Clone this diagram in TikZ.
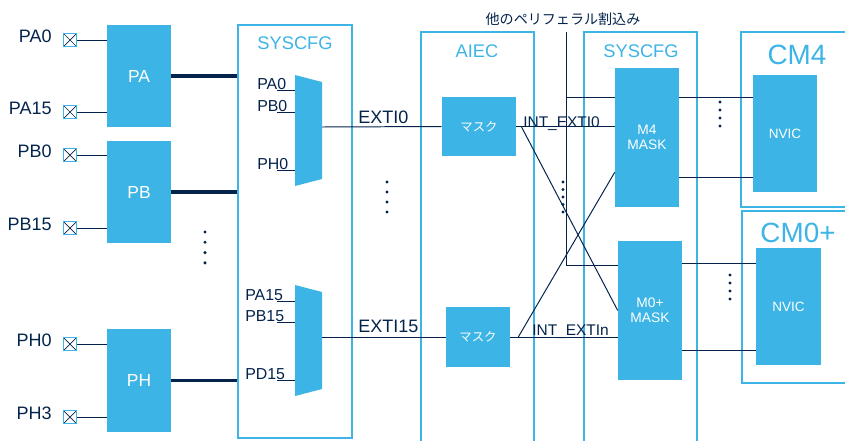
\documentclass[tikz,border=0pt]{standalone}
\usepackage{fontspec}
\setmainfont{Liberation Sans}
\newfontfamily\jpfont{Noto Sans CJK JP}
\usetikzlibrary{calc}
\definecolor{stblue}{HTML}{3CB4E6}
\definecolor{stnavy}{HTML}{03234B}

\begin{document}
\begin{tikzpicture}[x=0.025cm,y=-0.025cm,
  sz/.style 2 args={minimum width=#1*0.025cm,minimum height=#2*0.025cm},
  blk/.style={fill=stblue,text=white,inner sep=0pt},
  frm/.style={draw=stblue,line width=1.3pt},
  ttl/.style={text=stblue,inner sep=0pt,font=\fontsize{13}{15}\selectfont},
  lbl/.style={text=stnavy,inner sep=0pt,font=\fontsize{12.8}{15}\selectfont},
  wire/.style={draw=stnavy,line width=0.7pt},
  bus/.style={draw=stnavy,line width=2.8pt},
  pad/.style={draw=stblue,line width=0.9pt,minimum size=0.32cm,inner sep=0pt,
    path picture={\draw[stnavy,line width=0.5pt]
      (path picture bounding box.north west) -- (path picture bounding box.south east)
      (path picture bounding box.south west) -- (path picture bounding box.north east);}}]
\useasboundingbox (0,0) rectangle (845,441);

% GPIO ports
\node[blk,sz={64}{102},font=\fontsize{12.4}{14}\selectfont] (pa) at (139,76) {PA};
\node[blk,sz={64}{102},font=\fontsize{12.4}{14}\selectfont] (pb) at (139,192) {PB};
\node[blk,sz={64}{103},font=\fontsize{12.4}{14}\selectfont] (ph) at (139,380.5) {PH};
\foreach \nm/\y/\t/\bx in {pa0/40/PA0/pa, pa15/112/PA15/pa, pb0/155/PB0/pb,
                          pb15/228/PB15/pb, ph0/344/PH0/ph, ph3/417/PH3/ph}{
  \node[pad] (\nm) at (70,\y) {};
  \node[lbl,anchor=east] (\nm l) at ($(\nm.west)+(-11,-4)$) {\t}; %label
  \draw[wire] (\nm.east) -- (\nm.east -| \bx.west);
}

% SYSCFG (EXTI mux)
\node[frm,sz={114}{413}] (sysa) at (295,231.5) {};
\node[ttl] (sysat) at (295,43) {SYSCFG}; %label
\foreach \bx in {pa,pb,ph}
  \draw[bus] (\bx.east) -- (\bx.east -| sysa.west);

\fill[stblue] (295,75) -- (322,82) -- (322,179) -- (295,186) -- cycle;
\fill[stblue] (295,285) -- (322,292) -- (322,389) -- (295,396) -- cycle;
\coordinate (mxa) at (322,127);
\coordinate (mxb) at (322,337);
\foreach \y/\t/\lx in {90/PA0/257,112/PB0/257,170/PH0/257,301/PA15/245,322/PB15/245,380/PD15/245}{
  \draw[wire] (277,\y) -- (295,\y);
  \node[lbl,anchor=base west,font=\fontsize{11.3}{13}\selectfont] (in\t) at (\lx,\y-1) {\t}; %label
}

% AIEC
\draw[frm] (421,441) |- (534,32) -- (534,441);
\node[ttl] (aiect) at (477,51) {AIEC}; %label
\node[blk,sz={74}{59},font=\jpfont\fontsize{8.8}{10}\selectfont] (mka) at (479,126.5) {マスク};
\node[blk,sz={64}{60},font=\jpfont\fontsize{8.8}{10}\selectfont] (mkb) at (478,337) {マスク};
\draw[wire] (mxa) -- (mka.west);
\draw[wire] (mxb) -- (mkb.west);
\node[lbl,anchor=base west] (exa) at (358,123) {EXTI0}; %label
\node[lbl,anchor=base west] (exb) at (358,332) {EXTI15}; %label

% SYSCFG (core masks)
\draw[frm] (584,441) |- (697,32) -- (697,441);
\node[ttl] (sysbt) at (641,51) {SYSCFG}; %label
\node[blk,sz={64}{139},align=center,font=\fontsize{9.8}{10.6}\selectfont] (m4) at (647,137.5) {M4\\MASK};
\node[blk,sz={64}{139},align=center,font=\fontsize{9.8}{10.6}\selectfont] (m0) at (650,310.5) {M0+\\MASK};

\draw[wire] (mka.east) -- (mka.east -| m4.west);
\draw[wire] (mkb.east) -- (mkb.east -| m0.west);
\draw[wire] ($(mka.east)+(5,0)$) -- (m0.west);
\draw[wire] ($(mkb.east)+(8,0)$) -- ($(m4.south west)+(0,-35)$);
\node[lbl,anchor=base west,font=\fontsize{11}{13}\selectfont] (inta) at (523,127) {INT\_EXTI0}; %label
\node[lbl,anchor=base west,font=\fontsize{11}{13}\selectfont] (intb) at (532,335) {INT\_EXTIn}; %label

% other peripherals
\coordinate (per) at (566,32);
\coordinate (pera) at (566,97);
\coordinate (perb) at (566,265);
\node[text=stnavy,inner sep=0pt,font=\jpfont\fontsize{10}{12}\selectfont] (pert) at (563,19) {他のペリフェラル割込み}; %label
\draw[wire] (per) -- (perb) -- (perb -| m0.west);
\draw[wire] (pera) -- (pera -| m4.west);

% cores
\draw[frm] (845,32) -| (741,207) -- (845,207);
\draw[frm] (845,211) -| (742,383) -- (845,383);
\node[ttl,font=\fontsize{19.8}{22}\selectfont] (cm4t) at (797,55) {CM4}; %label
\node[ttl,font=\fontsize{19.8}{22}\selectfont] (cm0t) at (798,233) {CM0+}; %label
\node[blk,sz={64}{117},font=\fontsize{9.6}{11}\selectfont] (nva) at (785,133.5) {NVIC};
\node[blk,sz={65}{117},font=\fontsize{9.6}{11}\selectfont] (nvb) at (788.5,306.5) {NVIC};
\foreach \y in {97,177}
  \draw[wire] (m4.east |- 0,\y) -- (nva.west |- 0,\y);
\foreach \y in {263,350}
  \draw[wire] (m0.east |- 0,\y) -- (nvb.west |- 0,\y);

% dots
\foreach \x/\y/\n/\d in {205/232/4/10.3, 387/182/4/10, 563/182/5/7.5, 720/102/4/8, 730/275/4/8}
  \foreach \k in {1,...,\n}
    \fill[stnavy] (\x,{\y+(\k-1)*\d}) circle[radius=1.2pt];
\end{tikzpicture}
\end{document}
